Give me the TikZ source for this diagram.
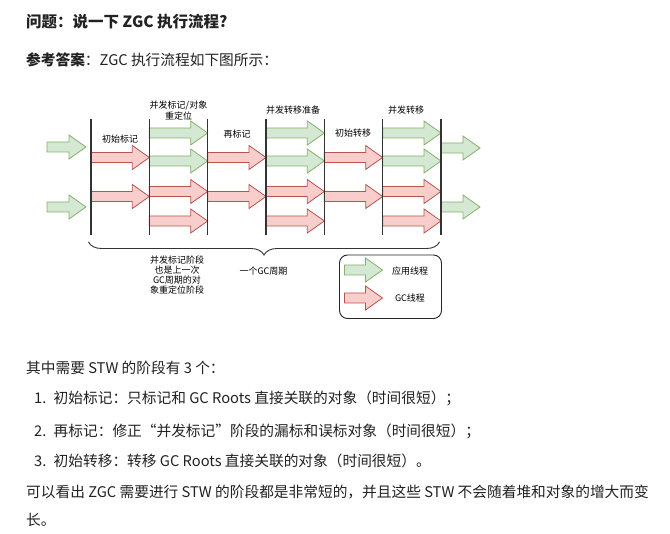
\documentclass[tikz,border=0pt]{standalone}
\usepackage{fontspec}
\setmainfont{Noto Sans CJK SC}
\usetikzlibrary{decorations.pathreplacing}
\definecolor{grnfill}{HTML}{D5E8D4}
\definecolor{grnline}{HTML}{82B366}
\definecolor{redfill}{HTML}{F8CECC}
\definecolor{redline}{HTML}{B85450}
\definecolor{txtcol}{HTML}{222222}
\newcommand\fatarrow[4]{\path[#1] (#2,{#4-5}) -- ({#3-17},{#4-5}) -- ({#3-17},{#4-12}) -- (#3,#4) -- ({#3-17},{#4+12}) -- ({#3-17},{#4+5}) -- (#2,{#4+5}) -- cycle;}
\begin{document}
\begin{tikzpicture}[x=1pt,y=-1pt,
  txt/.style={inner sep=0, anchor=west, font=\fontsize{14.7}{18}\selectfont, text=txtcol},
  lbl/.style={inner sep=0, align=center, font=\fontsize{9}{10.7}\selectfont, text=black},
  garr/.style={draw=grnline, fill=grnfill, line width=0.8pt},
  rarr/.style={draw=redline, fill=redfill, line width=0.8pt},
  vline/.style={draw=black!80, line width=1.1pt},
]
\useasboundingbox[fill=white] (0,0) rectangle (670,534);

% header text
\node[txt, font=\fontsize{15.5}{18}\selectfont\bfseries] (title) at (26,21.5) {问题：说一下 ZGC 执行流程?};
\node[txt] (answer) at (26,60) {\textbf{参考答案}：ZGC 执行流程如下图所示：};

% arrows before
\fatarrow{garr}{47}{86}{147}
\fatarrow{garr}{47}{86}{207}
% segment 1 (initial mark)
\fatarrow{rarr}{91}{149.33}{157.5}
\fatarrow{rarr}{91}{149.33}{196.5}
% segment 2
\fatarrow{garr}{149.33}{207.67}{133}
\fatarrow{garr}{149.33}{207.67}{161}
\fatarrow{rarr}{149.33}{207.67}{191.5}
\fatarrow{rarr}{149.33}{207.67}{221}
% segment 3
\fatarrow{rarr}{207.67}{266}{157.5}
\fatarrow{rarr}{207.67}{266}{196.5}
% segment 4
\fatarrow{garr}{266}{324.33}{133}
\fatarrow{garr}{266}{324.33}{161}
\fatarrow{rarr}{266}{324.33}{191.5}
\fatarrow{rarr}{266}{324.33}{221}
% segment 5
\fatarrow{rarr}{324.33}{382.67}{157.5}
\fatarrow{rarr}{324.33}{382.67}{196.5}
% segment 6
\fatarrow{garr}{382.67}{441}{133}
\fatarrow{garr}{382.67}{441}{161}
\fatarrow{rarr}{382.67}{441}{191.5}
\fatarrow{rarr}{382.67}{441}{221}
% arrows after
\fatarrow{garr}{441}{480}{148}
\fatarrow{garr}{441}{480}{207}

% vertical phase lines
\foreach \x in {91,149.33,207.67,266,324.33,382.67,441}
  \draw[vline] (\x,119) -- (\x,235);

% phase labels
\node[lbl] (l1) at (120,139) {初始标记};
\node[lbl] (l2) at (178.5,110.5) {并发标记/对象\\重定位};
\node[lbl] (l3) at (237,134.5) {再标记};
\node[lbl] (l4) at (293,110) {并发转移准备};
\node[lbl] (l5) at (353,133.5) {初始转移};
\node[lbl] (l6) at (406,110) {并发转移};

% brace
\draw[black!80, line width=0.9pt, decorate, decoration={brace, mirror, amplitude=13pt}] (88.5,242) -- (439.5,242);
\node[lbl, font=\fontsize{9}{10}\selectfont] (b1) at (177,275.5) {并发标记阶段\\也是上一次\\GC周期的对\\象重定位阶段};
\node[lbl] (b2) at (263.5,271) {一个GC周期};

% legend
\draw[black!85, line width=0.9pt, rounded corners=8pt] (339.5,255) rectangle (441.5,318.5);
\fatarrow{garr}{344.5}{382.5}{270}
\fatarrow{rarr}{344.5}{382.5}{298}
\node[lbl] (lg1) at (410,271) {应用线程};
\node[lbl] (lg2) at (410,298.5) {GC线程};

% body text
\node[txt] (p1) at (26,368) {其中需要 STW 的阶段有 3 个：};
\node[txt] (n1) at (34,398) {1.};
\node[txt] (t1) at (53.5,398) {初始标记：只标记和 GC Roots 直接关联的对象（时间很短）；};
\node[txt] (n2) at (34,431) {2.};
\node[txt] (t2) at (53.5,431) {再标记：修正“并发标记”阶段的漏标和误标对象（时间很短）；};
\node[txt] (n3) at (34,461) {3.};
\node[txt] (t3) at (53.5,461) {初始转移：转移 GC Roots 直接关联的对象（时间很短）。};
\node[txt] (p2) at (26,492) {可以看出 ZGC 需要进行 STW 的阶段都是非常短的，并且这些 STW 不会随着堆和对象的增大而变};
\node[txt] (p3) at (26,520) {长。};
\end{tikzpicture}
\end{document}
